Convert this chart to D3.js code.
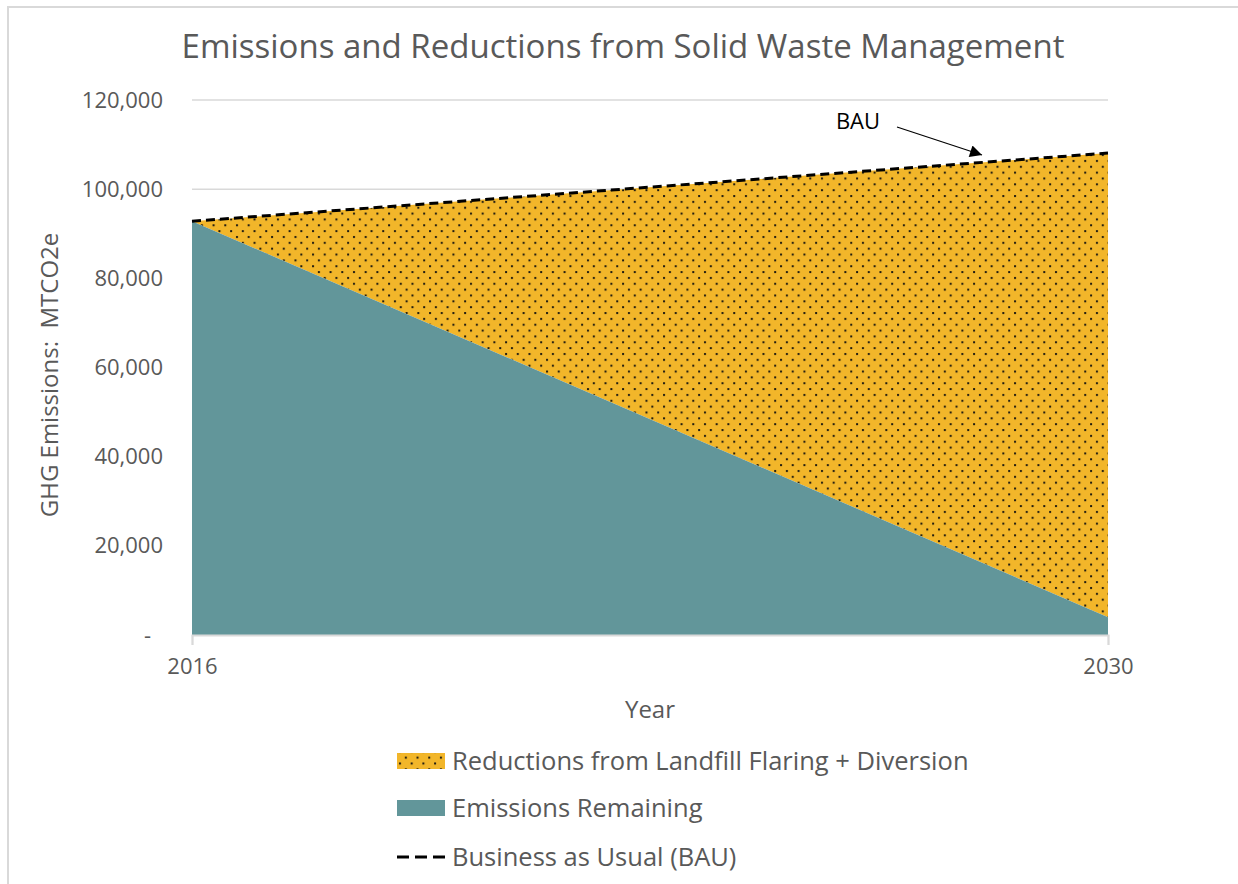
<html>
<head>
  <meta charset="utf-8">
  <script src="https://d3js.org/d3.v7.min.js"></script>
  <style>
    body { margin: 0; background: #fff; }
    text { font-family: "Open Sans", "Noto Sans", sans-serif; fill: #595959; }
  </style>
  <script>
    var years = [2016, 2030];
    var bauValues = [92800, 108100];
    var remainingValues = [92800, 4000];
    var yTicks = [0, 20000, 40000, 60000, 80000, 100000, 120000];
    var legendLabels = ["Reductions from Landfill Flaring + Diversion", "Emissions Remaining", "Business as Usual (BAU)"];

    function makeChart() {
      var svg = d3.select("#chart");
      var ds = years.map((y, i) => ({ year: y, bau: bauValues[i], rem: remainingValues[i] }));

      var xSc = d3.scaleLinear().domain(d3.extent(years)).range([192, 1108]);
      var ySc = d3.scaleLinear().domain([0, 120000]).range([635, 100]);

      // chart border (only top/left visible in the original)
      svg.append("path").attr("d", "M8,884 L8,7 L1238,7")
        .attr("fill", "none").attr("stroke", "#d9d9d9").attr("stroke-width", 2);

      // dotted pattern for reductions
      var defs = svg.append("defs");
      var pat = defs.append("pattern").attr("id", "dots")
        .attr("patternUnits", "userSpaceOnUse").attr("width", 11.7).attr("height", 11.7);
      pat.append("rect").attr("width", 11.7).attr("height", 11.7).attr("fill", "#f2b62a");
      pat.append("rect").attr("x", 2).attr("y", 2).attr("width", 2).attr("height", 2).attr("fill", "#1e1a10");
      pat.append("rect").attr("x", 7.85).attr("y", 7.85).attr("width", 2).attr("height", 2).attr("fill", "#1e1a10");

      // gridlines
      svg.append("g").selectAll("line").data(yTicks.filter(d => d > 0)).enter()
        .append("line")
        .attr("x1", 192).attr("x2", 1108)
        .attr("y1", d => ySc(d)).attr("y2", d => ySc(d))
        .attr("stroke", "#d9d9d9").attr("stroke-width", 1.5);

      // reductions area (between remaining and BAU)
      var redArea = d3.area().x(d => xSc(d.year)).y0(d => ySc(d.rem)).y1(d => ySc(d.bau));
      svg.append("path").attr("d", redArea(ds)).attr("fill", "url(#dots)");

      // remaining area
      var remArea = d3.area().x(d => xSc(d.year)).y0(ySc(0)).y1(d => ySc(d.rem));
      svg.append("path").attr("d", remArea(ds)).attr("fill", "#62969a");

      // x axis
      var xAxis = d3.axisBottom(xSc).tickValues(years).tickFormat(d3.format("d"))
        .tickSize(10).tickPadding(13);
      var gx = svg.append("g").attr("transform", "translate(0," + ySc(0) + ")").call(xAxis);
      gx.select(".domain").attr("stroke", "#d9d9d9").attr("stroke-width", 2);
      gx.selectAll(".tick line").attr("stroke", "#d9d9d9").attr("stroke-width", 1.5);
      gx.selectAll("text").attr("font-size", 22).attr("fill", "#595959")
        .style("font-family", "'Open Sans', sans-serif");

      // y axis labels
      var yFmt = d => d === 0 ? "-" : d3.format(",")(d);
      var yAxis = d3.axisLeft(ySc).tickValues(yTicks).tickFormat(yFmt).tickSize(0).tickPadding(29);
      var gy = svg.append("g").attr("transform", "translate(192,0)").call(yAxis);
      gy.select(".domain").remove();
      gy.selectAll("text").attr("font-size", 22).attr("fill", "#595959")
        .style("font-family", "'Open Sans', sans-serif");
      gy.selectAll(".tick").filter(d => d === 0).select("text").attr("dx", -12);

      // BAU line
      var bauLine = d3.line().x(d => xSc(d.year)).y(d => ySc(d.bau));
      svg.append("path").attr("d", bauLine(ds))
        .attr("fill", "none").attr("stroke", "#000").attr("stroke-width", 3)
        .attr("stroke-dasharray", "9,5");

      // title
      svg.append("text").attr("x", 623).attr("y", 58).attr("text-anchor", "middle")
        .attr("font-size", 33).text("Emissions and Reductions from Solid Waste Management");

      // axis titles
      svg.append("text").attr("transform", "translate(58,375) rotate(-90)")
        .attr("text-anchor", "middle").attr("font-size", 24)
        .style("white-space", "pre")
        .text("GHG Emissions:  MTCO2e");
      svg.append("text").attr("x", 650).attr("y", 718).attr("text-anchor", "middle")
        .attr("font-size", 24).text("Year");

      // BAU annotation
      defs.append("marker").attr("id", "arrow").attr("viewBox", "0 0 10 10")
        .attr("refX", 10).attr("refY", 5)
        .attr("markerUnits", "userSpaceOnUse").attr("orient", "auto")
        .attr("markerWidth", 16).attr("markerHeight", 12)
        .append("path").attr("d", "M0,0 L10,5 L0,10 Z").attr("fill", "#000");
      svg.append("line").attr("x1", 897).attr("y1", 127).attr("x2", 982).attr("y2", 155)
        .attr("stroke", "#000").attr("stroke-width", 1.2).attr("marker-end", "url(#arrow)");
      svg.append("text").attr("x", 858).attr("y", 129).attr("text-anchor", "middle")
        .attr("font-size", 22).style("fill", "#000").text("BAU");

      // legend
      var lg = svg.append("g").attr("transform", "translate(397,0)");
      var rowY = [761, 808, 857];
      lg.append("rect").attr("x", 0).attr("y", rowY[0] - 8).attr("width", 48).attr("height", 16)
        .attr("fill", "url(#dots)");
      lg.append("rect").attr("x", 0).attr("y", rowY[1] - 8).attr("width", 48).attr("height", 16)
        .attr("fill", "#62969a");
      lg.append("line").attr("x1", 0).attr("x2", 48).attr("y1", rowY[2]).attr("y2", rowY[2])
        .attr("stroke", "#000").attr("stroke-width", 3).attr("stroke-dasharray", "12,6");
      lg.selectAll("text.leg").data(legendLabels).enter().append("text")
        .attr("class", "leg").attr("x", 55).attr("y", (d, i) => rowY[i])
        .attr("dy", "0.35em").attr("font-size", 25.5).text(d => d);
    }
  </script>
</head>
<body onload="makeChart()">
  <svg id="chart" width="1238" height="884"></svg>
</body>
</html>
